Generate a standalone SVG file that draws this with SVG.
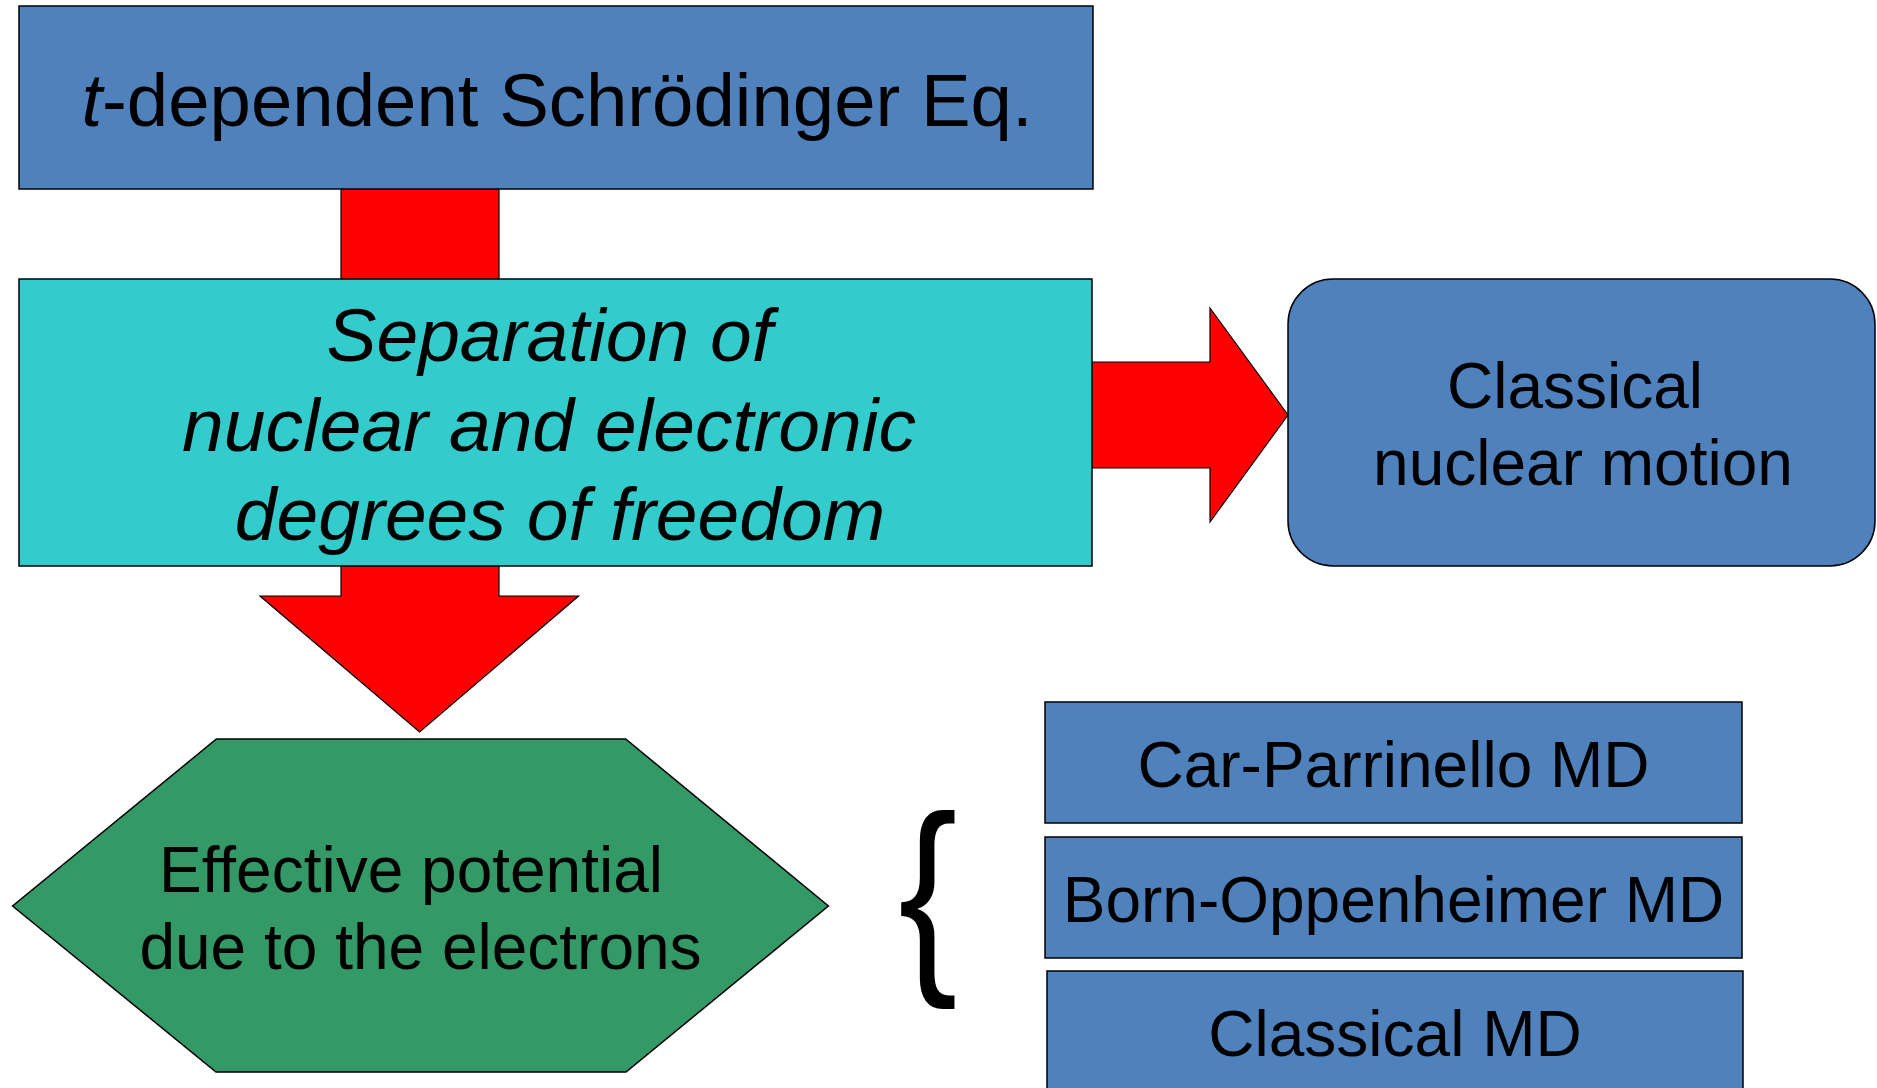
<svg xmlns="http://www.w3.org/2000/svg" width="1877" height="1088" viewBox="0 0 1877 1088">
<style>
.box{stroke:#000;stroke-width:1.5}
.blue{fill:#4F81BD}
.arrow{fill:#FF0000;stroke:#000;stroke-width:1.2}
text{font-family:"Liberation Sans",Arial,sans-serif;fill:#000;text-anchor:middle}
.big{font-size:75px}
.mid{font-size:64px}
</style>
<rect width="1877" height="1088" fill="#fff"/>
<g id="connectors">
<polygon class="arrow" points="341,189 499,189 499,596 578.6,596 419.6,732 260,596 341,596"/>
<polygon class="arrow" points="900,362 1210,362 1210,308 1288,415 1210,522 1210,468 900,468"/>
</g>
<g id="node-schrodinger">
<rect class="box blue" x="19" y="6" width="1074" height="183"/>
<text x="557" y="126" style="font-size:74.4px"><tspan font-style="italic">t</tspan>-dependent Schrödinger Eq.</text>
</g>
<g id="node-separation">
<rect class="box" fill="#33CCCC" x="19" y="279" width="1073" height="287"/>
<text class="big" font-style="italic" x="549.5" y="361">Separation of</text>
<text class="big" font-style="italic" x="549" y="451">nuclear and electronic</text>
<text class="big" font-style="italic" x="560" y="540">degrees of freedom</text>
</g>
<g id="node-classical-nuclear">
<rect class="box blue" x="1288" y="279" width="587" height="287" rx="45" ry="45"/>
<text class="mid" x="1575" y="408">Classical</text>
<text class="mid" x="1583" y="485">nuclear motion</text>
</g>
<g id="node-effective">
<polygon class="box" fill="#339966" points="216.4,739 625.7,739 828.4,906 626,1072 216,1072 12.6,906"/>
<text class="mid" x="411" y="892">Effective potential</text>
<text class="mid" x="420.5" y="969">due to the electrons</text>
</g>
<g id="brace">
<text transform="translate(928,965) scale(0.83,1)" x="0" y="0" style="font-size:214px">{</text>
</g>
<g id="node-cpmd">
<rect class="box blue" x="1045" y="702" width="697" height="121"/>
<text class="mid" x="1393.5" y="787">Car-Parrinello MD</text>
</g>
<g id="node-bomd">
<rect class="box blue" x="1045" y="837" width="697" height="121"/>
<text class="mid" x="1393.5" y="922">Born-Oppenheimer MD</text>
</g>
<g id="node-classicalmd">
<rect class="box blue" x="1047" y="971" width="696" height="130"/>
<text class="mid" x="1395" y="1056">Classical MD</text>
</g>
</svg>
